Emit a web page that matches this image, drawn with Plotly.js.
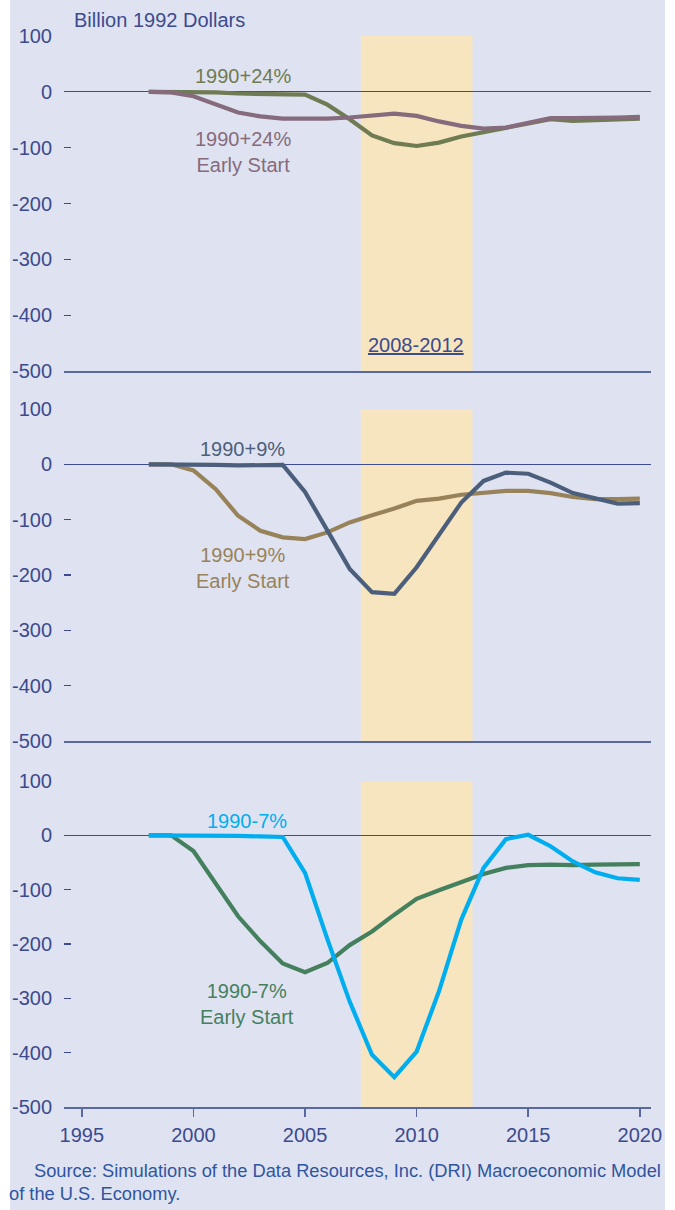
<!DOCTYPE html>
<html>
<head>
<meta charset="utf-8">
<script src="https://cdn.plot.ly/plotly-3.0.1.min.js"></script>
<style>html,body{margin:0;padding:0;background:#fff;}#chart{width:675px;height:1210px;}</style>
</head>
<body>
<div id="chart"></div>
<script>
// ---- Data (billion 1992 dollars, change vs. baseline) ----
const years = [1998,1999,2000,2001,2002,2003,2004,2005,2006,2007,2008,2009,2010,2011,2012,2013,2014,2015,2016,2017,2018,2019,2020];

const plus24      = [0,0,0,-1,-3,-4,-4,-5,-23,-49,-78,-92,-97,-91,-80,-72,-64,-56,-49,-52,-51,-50,-48];
const plus24Early = [0,-1,-8,-22,-37,-44,-48,-48,-48,-46,-42,-39,-43,-53,-61,-66,-64,-55,-47,-47,-47,-46,-45];

const plus9       = [0,0,-1,-1,-2,-2,-1,-50,-120,-189,-231,-234,-186,-126,-69,-30,-15,-17,-33,-52,-61,-71,-70];
const plus9Early  = [0,0,-11,-45,-93,-120,-132,-135,-123,-105,-92,-80,-66,-62,-55,-51,-48,-48,-52,-59,-63,-63,-62];

const minus7      = [0,0,-1,-1,-1,-2,-3,-69,-191,-306,-404,-445,-398,-287,-155,-60,-7,1,-20,-48,-68,-79,-82];
const minus7Early = [0,0,-29,-88,-149,-195,-236,-252,-235,-202,-177,-146,-117,-101,-85,-71,-60,-55,-54,-55,-54,-54,-53];

const commitPeriod = [2007.5, 2012.5];
const yTicks = [100,0,-100,-200,-300,-400,-500];
const xTicks = [1995,2000,2005,2010,2015,2020];

// ---- Styles ----
const FONT = 'Liberation Sans, Arial, sans-serif';
const FS = 20;
const TXT = '#3c4a8e';
const BG = '#dfe3f1';
const SHADE = '#f7e5bf';
const C = {
  p24: '#6f7b52', p24e: '#866b7c',
  p9: '#4b5f7d', p9e: '#988259',
  m7: '#00aeef', m7e: '#45805e'
};
const LW = 4.2;

function tr(y, color, xa, ya) {
  return {x: years, y: y, type: 'scatter', mode: 'lines', xaxis: xa, yaxis: ya,
          line: {color: color, width: LW}, hoverinfo: 'skip', showlegend: false};
}

const data = [
  tr(plus24, C.p24, 'x', 'y'),
  tr(plus24Early, C.p24e, 'x', 'y'),
  tr(plus9Early, C.p9e, 'x2', 'y2'),
  tr(plus9, C.p9, 'x2', 'y2'),
  tr(minus7Early, C.m7e, 'x3', 'y3'),
  tr(minus7, C.m7, 'x3', 'y3')
];

const xRange = [1994.2, 2020.5];
function xax(anchor, showTicks) {
  const a = {
    range: xRange, anchor: anchor, showgrid: false, zeroline: false,
    showline: true, linecolor: '#5a68a2', linewidth: 2,
    tickvals: xTicks, ticktext: xTicks.map(String),
    tickfont: {family: FONT, size: FS, color: TXT},
    fixedrange: true
  };
  if (showTicks) {
    a.ticks = 'outside'; a.ticklen = 8; a.tickwidth = 1.5; a.tickcolor = '#5a68a2';
    a.showticklabels = true; a.ticklabelstandoff = 1;
  } else {
    a.ticks = ''; a.showticklabels = false;
  }
  return a;
}
function yax(anchor, domain) {
  return {
    domain: domain, anchor: anchor, range: [-500, 100],
    tickvals: yTicks, ticktext: yTicks.map(String),
    ticks: 'inside', ticklen: 7, tickwidth: 1.2, tickcolor: '#3c4a8e',
    ticklabelstandoff: 11,
    tickfont: {family: FONT, size: FS, color: TXT},
    showgrid: false, showline: false,
    zeroline: true, zerolinecolor: '#3e4d92', zerolinewidth: 1.3,
    fixedrange: true
  };
}

const H = 1210;
const dom = (top, bot) => [1 - bot / H, 1 - top / H];

const shapes = [
  // lavender panel background
  {type: 'rect', xref: 'paper', yref: 'paper', x0: (10 - 64) / 587, x1: (665 - 64) / 587, y0: 0, y1: 1,
   fillcolor: BG, line: {width: 0}, layer: 'below'}
];
[['x','y'],['x2','y2'],['x3','y3']].forEach(([xa, ya]) => {
  shapes.push({type: 'rect', xref: xa, yref: ya, x0: commitPeriod[0], x1: commitPeriod[1], y0: -500, y1: 100,
               fillcolor: SHADE, line: {width: 0}, layer: 'below'});
});

function ann(text, x, y, color, xref, yref, extra) {
  return Object.assign({text: text, x: x, y: y, xref: xref, yref: yref, showarrow: false,
    font: {family: FONT, size: FS, color: color}, xanchor: 'center', yanchor: 'middle'}, extra || {});
}

const SRC = {family: FONT, size: 18.3, color: '#2f55a0'};
const annotations = [
  ann('Billion 1992 Dollars', (72 - 64) / 587, 1 - 20 / H, TXT, 'paper', 'paper', {xanchor: 'left'}),
  ann('1990+24%', 2002.2, 28, C.p24, 'x', 'y'),
  ann('1990+24%<br>Early Start', 2002.2, -107, C.p24e, 'x', 'y'),
  ann('<u>2008-2012</u>', 2009.95, -453, TXT, 'x', 'y'),
  ann('1990+9%', 2002.2, 27, C.p9, 'x2', 'y2'),
  ann('1990+9%<br>Early Start', 2002.2, -187, C.p9e, 'x2', 'y2'),
  ann('1990-7%', 2002.4, 26, C.m7, 'x3', 'y3'),
  ann('1990-7%<br>Early Start', 2002.4, -311, C.m7e, 'x3', 'y3'),
  ann('Source: Simulations of the Data Resources, Inc. (DRI) Macroeconomic Model', (32 - 64) / 587, 1 - 1170 / H,
      '#2f55a0', 'paper', 'paper', {xanchor: 'left', font: SRC}),
  ann('of the U.S. Economy.', (7 - 64) / 587, 1 - 1193 / H,
      '#2f55a0', 'paper', 'paper', {xanchor: 'left', font: SRC})
];

const layout = {
  width: 675, height: 1210,
  margin: {l: 64, r: 24, t: 0, b: 0, autoexpand: false},
  paper_bgcolor: '#ffffff', plot_bgcolor: 'rgba(0,0,0,0)',
  showlegend: false,
  xaxis: xax('y', false),
  xaxis2: Object.assign(xax('y2', false), {matches: 'x'}),
  xaxis3: Object.assign(xax('y3', true), {matches: 'x'}),
  yaxis: yax('x', dom(36, 371)),
  yaxis2: yax('x2', dom(409, 741)),
  yaxis3: yax('x3', dom(781, 1107)),
  shapes: shapes,
  annotations: annotations
};

Plotly.newPlot('chart', data, layout, {staticPlot: true, displayModeBar: false});
</script>
</body>
</html>
